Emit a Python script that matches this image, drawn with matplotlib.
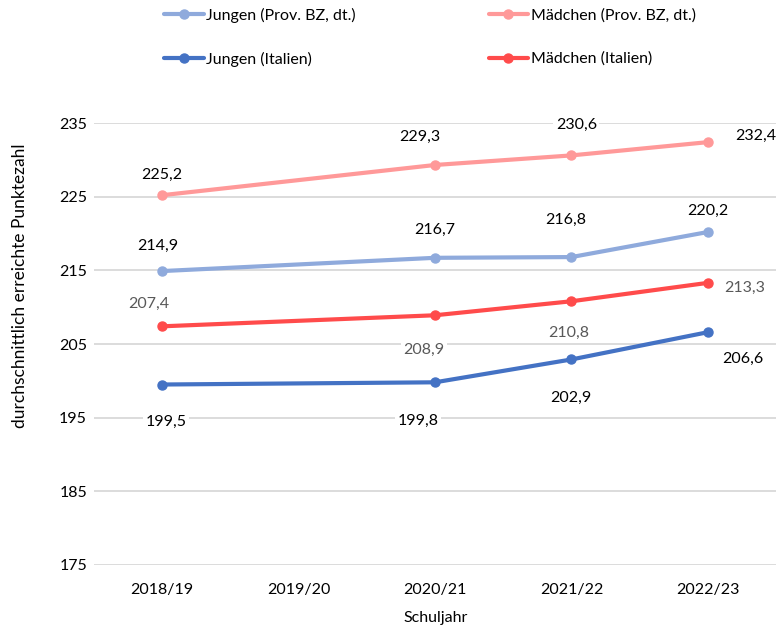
import matplotlib.pyplot as plt

plt.rcParams['font.family'] = ['Lato', 'DejaVu Sans']

# data (2019/20 not surveyed)
years = ['2018/19', '2019/20', '2020/21', '2021/22', '2022/23']
jungen_bz = [214.9, None, 216.7, 216.8, 220.2]
maedchen_bz = [225.2, None, 229.3, 230.6, 232.4]
jungen_it = [199.5, None, 199.8, 202.9, 206.6]
maedchen_it = [207.4, None, 208.9, 210.8, 213.3]
yticks = [175, 185, 195, 205, 215, 225, 235]

# label offsets in pixels (dx, dy), one per point
off_jbz = [(-4, 25), None, (0, 28), (-6, 37), (0, 21)]
off_mbz = [(0, 20), None, (-15, 28), (5, 31), (48, 6)]
off_jit = [(4, -37), None, (-17, -39), (-1, -38), (35, -27)]
off_mit = [(-13, 22), None, (-11, -35), (-3, -32), (37, -5)]

series = [
    ('Jungen (Prov. BZ, dt.)', jungen_bz, '#8faadc', off_jbz, 'black'),
    ('Jungen (Italien)', jungen_it, '#4472c4', off_jit, 'black'),
    ('Mädchen (Prov. BZ, dt.)', maedchen_bz, '#ff9999', off_mbz, 'black'),
    ('Mädchen (Italien)', maedchen_it, '#ff4b4b', off_mit, '#595959'),
]

fig = plt.figure(figsize=(7.83, 6.30), dpi=100)
ax = fig.add_axes([94/783, 1-565/630, 682/783, 442/630])

handles = []
for name, vals, col, offs, tcol in series:
    xs = [i for i, v in enumerate(vals) if v is not None]
    ys = [v for v in vals if v is not None]
    h, = ax.plot(xs, ys, '-o', color=col, lw=3, ms=6.5, label=name,
                 solid_capstyle='round', zorder=3)
    handles.append(h)
    for i, v in enumerate(vals):
        if v is None:
            continue
        ax.annotate(('%.1f' % v).replace('.', ','), xy=(i, v),
                    xytext=offs[i], textcoords='offset pixels',
                    ha='center', va='center', fontsize=11.5, color=tcol,
                    bbox=dict(boxstyle='square,pad=0.15', fc='white', ec='none'),
                    annotation_clip=False, zorder=4)

ax.set_xlim(-0.5, 4.5)
ax.set_ylim(175, 235)
ax.set_xticks(range(len(years)))
ax.set_xticklabels(years)
ax.set_yticks(yticks)
ax.tick_params(axis='both', length=0, labelsize=11.5)
ax.tick_params(axis='x', pad=13)
ax.tick_params(axis='y', pad=5)
ax.grid(axis='y', color='#d9d9d9', lw=1.3, zorder=0)
ax.set_axisbelow(True)
for s in ax.spines.values():
    s.set_visible(False)

ax.set_xlabel('Schuljahr', fontsize=11.5)
ax.xaxis.set_label_coords(0.501, -0.105)
ax.set_ylabel('durchschnittlich erreichte Punktezahl', fontsize=12.5)
ax.yaxis.set_label_coords(-0.097, 0.631)

fig.legend(handles=handles, loc='upper left', bbox_to_anchor=(164/783, 1-8/630),
           ncol=2, frameon=False, fontsize=11.5, handlelength=2.5,
           handletextpad=0.15, columnspacing=8.3, labelspacing=1.8,
           borderaxespad=0, borderpad=0)

plt.savefig('out.png', dpi=100)
